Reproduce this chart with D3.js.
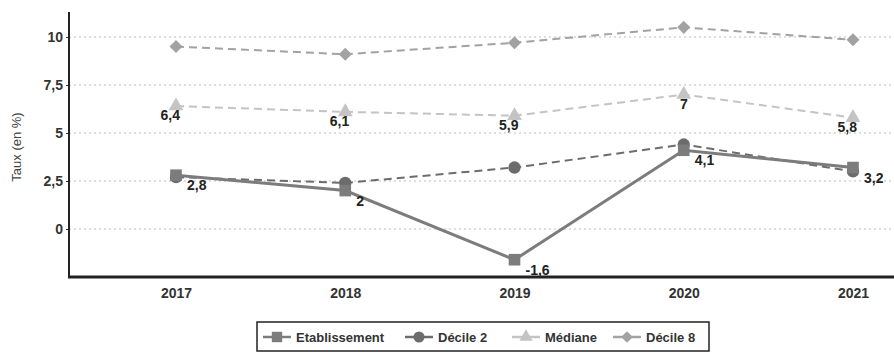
<!DOCTYPE html>
<html><head><meta charset="utf-8">
<script src="https://cdn.jsdelivr.net/npm/d3@7"></script>
<style>body{margin:0;background:#fff}svg{display:block}text{font-family:"Liberation Sans",Arial,sans-serif}</style>
</head><body><svg id="c" width="894" height="353"></svg>
<script>
const years = ["2017", "2018", "2019", "2020", "2021"];
const etablissement = [2.8, 2, -1.6, 4.1, 3.2];
const decile2 = [2.7, 2.4, 3.2, 4.4, 3.0];
const mediane = [6.4, 6.1, 5.9, 7, 5.8];
const decile8 = [9.5, 9.1, 9.7, 10.5, 9.85];
const yTicks = [0, 2.5, 5, 7.5, 10];
const seriesNames = ["Etablissement", "Décile 2", "Médiane", "Décile 8"];

const svg = d3.select("#c");
const mLeft = 69, mRight = 894, mTop = 12, mBottom = 277;
const x = d3.scalePoint().domain(years).range([176, 853]);
const y = d3.scaleLinear().domain([-2.5, 11.3]).range([mBottom, mTop]);
const fmt = v => String(v).replace(".", ",");

// grid
svg.append("g").selectAll("line").data(yTicks).join("line")
  .attr("x1", mLeft).attr("x2", mRight).attr("y1", d => y(d)).attr("y2", d => y(d))
  .attr("stroke", "#d4d4d4").attr("stroke-width", 1.5).attr("stroke-dasharray", "2,3");

// y axis
const ya = svg.append("g").attr("transform", `translate(${mLeft},0)`)
  .call(d3.axisLeft(y).tickValues(yTicks).tickFormat(fmt).tickSize(3).tickPadding(3));
ya.select(".domain").remove();
ya.selectAll("text").attr("font-size", 14).attr("font-weight", "bold").attr("fill", "#333");
ya.selectAll("line").attr("stroke", "#333");
svg.append("line").attr("x1", mLeft).attr("x2", mLeft).attr("y1", mTop).attr("y2", mBottom)
  .attr("stroke", "#222").attr("stroke-width", 2);

// x axis
const xa = svg.append("g").attr("transform", `translate(0,${mBottom})`)
  .call(d3.axisBottom(x).tickSize(0).tickPadding(11));
xa.select(".domain").remove();
xa.selectAll("text").attr("font-size", 14).attr("font-weight", "bold").attr("fill", "#333");
svg.append("line").attr("x1", mLeft - 1).attr("x2", mRight).attr("y1", mBottom).attr("y2", mBottom)
  .attr("stroke", "#222").attr("stroke-width", 3);

svg.append("text").attr("transform", `translate(21,147) rotate(-90)`)
  .attr("text-anchor", "middle").attr("font-size", 13).attr("fill", "#444").text("Taux (en %)");

const series = [
  {name: seriesNames[3], data: decile8, color: "#a2a2a2", dash: "8,5", w: 2, shape: d3.symbolSquare, rot: 45, size: 85},
  {name: seriesNames[2], data: mediane, color: "#c4c4c4", dash: "8,5", w: 2, shape: d3.symbolTriangle, rot: 0, size: 95},
  {name: seriesNames[1], data: decile2, color: "#6c6c6c", dash: "8,5", w: 2, shape: d3.symbolCircle, rot: 0, size: 120},
  {name: seriesNames[0], data: etablissement, color: "#7c7c7c", dash: null, w: 3, shape: d3.symbolSquare, rot: 0, size: 135}
];
const line = d3.line().x((d, i) => x(years[i])).y(d => y(d));
series.forEach(s => {
  svg.append("path").datum(s.data).attr("d", line).attr("fill", "none")
    .attr("stroke", s.color).attr("stroke-width", s.w).attr("stroke-dasharray", s.dash);
  svg.append("g").selectAll("path").data(s.data).join("path")
    .attr("transform", (d, i) => `translate(${x(years[i])},${y(d)}) rotate(${s.rot})`)
    .attr("d", d3.symbol(s.shape, s.size)).attr("fill", s.color);
});

// value labels
svg.append("g").selectAll("text").data(mediane).join("text")
  .attr("x", (d, i) => x(years[i]) + 4).attr("y", d => y(d) + 14)
  .attr("text-anchor", "end").attr("font-size", 14).attr("font-weight", "bold").attr("fill", "#222")
  .text(fmt);
svg.append("g").selectAll("text").data(etablissement).join("text")
  .attr("x", (d, i) => x(years[i]) + 11).attr("y", d => y(d) + 15)
  .attr("font-size", 14).attr("font-weight", "bold").attr("fill", "#222")
  .text(fmt);

// legend
const lg = svg.append("g");
lg.append("rect").attr("x", 257).attr("y", 322).attr("width", 452).attr("height", 29)
  .attr("fill", "#fff").attr("stroke", "#222").attr("stroke-width", 1.5);
const legendItems = [series[3], series[2], series[1], series[0]];
const legendX = [263, 405, 512, 613];
legendItems.forEach((s, i) => {
  const g = lg.append("g").attr("transform", `translate(${legendX[i]},337)`);
  g.append("line").attr("x1", 0).attr("x2", 28).attr("stroke", s.color).attr("stroke-width", 2.5);
  g.append("path").attr("transform", `translate(14,0) rotate(${s.rot})`)
    .attr("d", d3.symbol(s.shape, s.size * 0.8)).attr("fill", s.color);
  g.append("text").attr("x", 33).attr("y", 4.5).attr("font-size", 13).attr("font-weight", "bold")
    .attr("fill", "#333").text(s.name);
});
</script></body></html>
